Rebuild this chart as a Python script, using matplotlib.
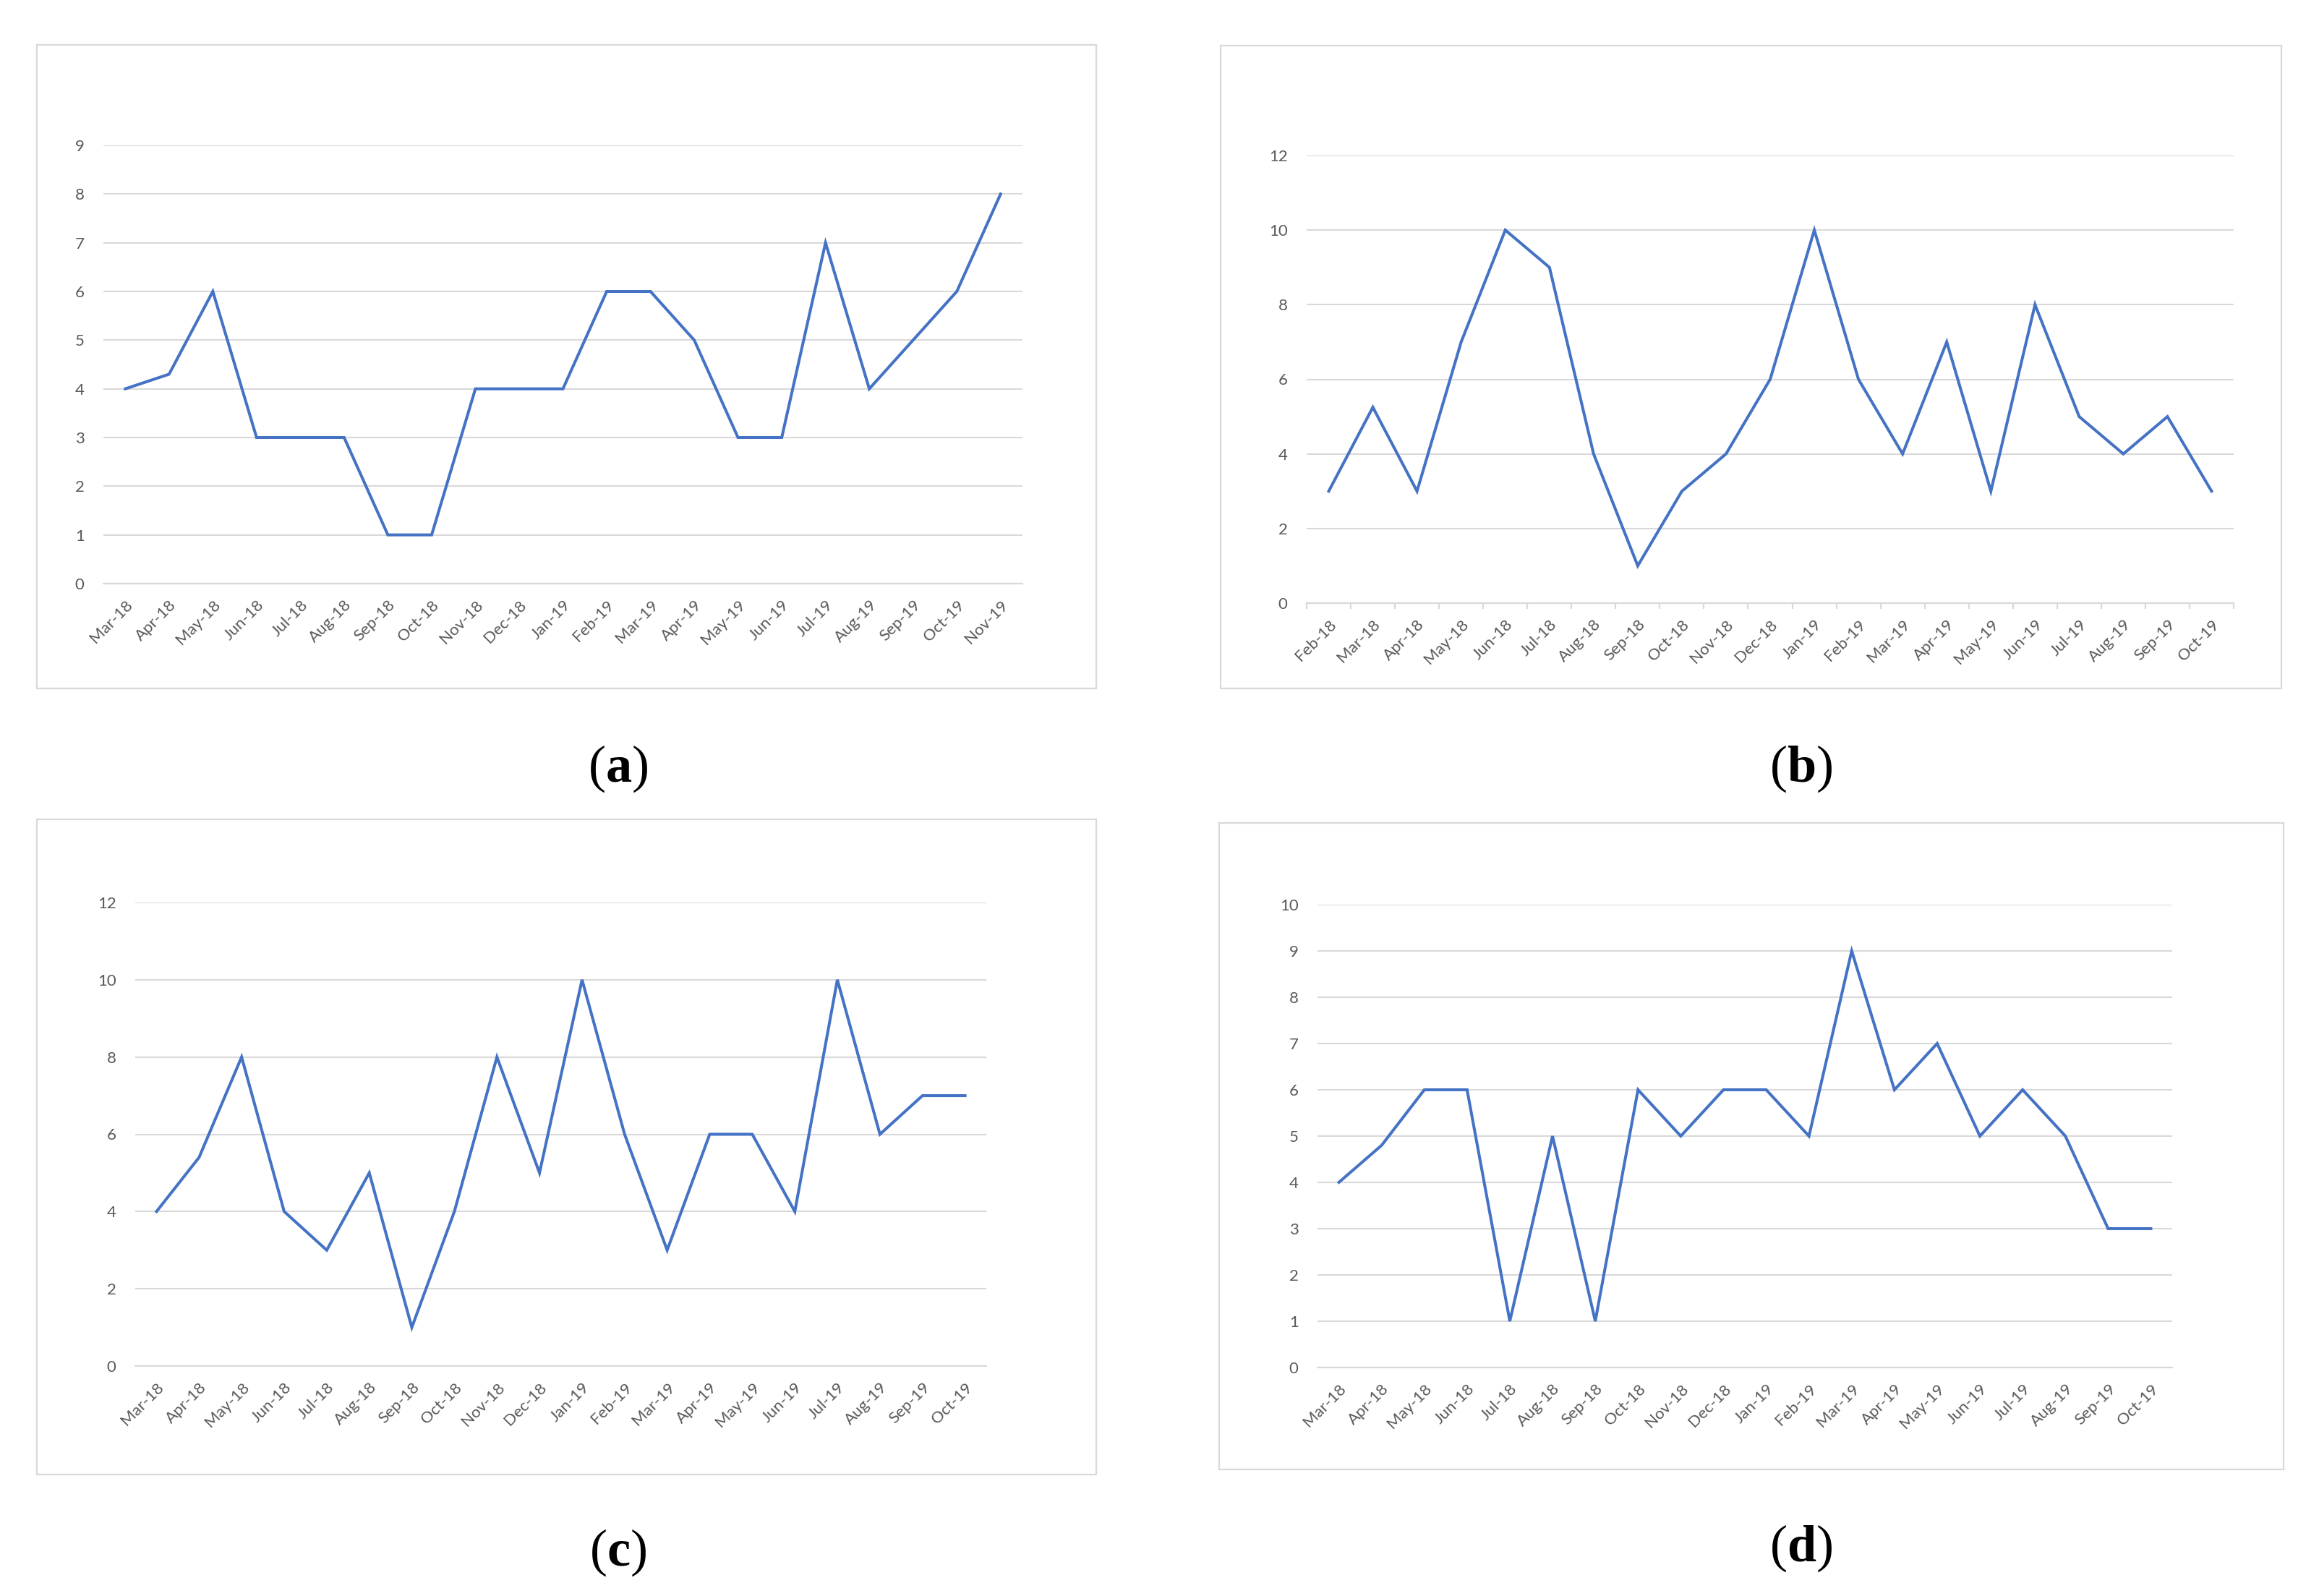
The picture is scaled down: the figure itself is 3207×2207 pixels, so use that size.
import matplotlib
matplotlib.use('Agg')
import matplotlib.pyplot as plt
from matplotlib.patches import Rectangle

# ---------------- data ----------------
months_a = ['Mar-18', 'Apr-18', 'May-18', 'Jun-18', 'Jul-18', 'Aug-18', 'Sep-18', 'Oct-18',
            'Nov-18', 'Dec-18', 'Jan-19', 'Feb-19', 'Mar-19', 'Apr-19', 'May-19', 'Jun-19',
            'Jul-19', 'Aug-19', 'Sep-19', 'Oct-19', 'Nov-19']
values_a = [4, 4.3, 6, 3, 3, 3, 1, 1, 4, 4, 4, 6, 6, 5, 3, 3, 7, 4, 5, 6, 8]

months_b = ['Feb-18', 'Mar-18', 'Apr-18', 'May-18', 'Jun-18', 'Jul-18', 'Aug-18', 'Sep-18',
            'Oct-18', 'Nov-18', 'Dec-18', 'Jan-19', 'Feb-19', 'Mar-19', 'Apr-19', 'May-19',
            'Jun-19', 'Jul-19', 'Aug-19', 'Sep-19', 'Oct-19']
values_b = [3, 5.25, 3, 7, 10, 9, 4, 1, 3, 4, 6, 10, 6, 4, 7, 3, 8, 5, 4, 5, 3]

months_c = ['Mar-18', 'Apr-18', 'May-18', 'Jun-18', 'Jul-18', 'Aug-18', 'Sep-18', 'Oct-18',
            'Nov-18', 'Dec-18', 'Jan-19', 'Feb-19', 'Mar-19', 'Apr-19', 'May-19', 'Jun-19',
            'Jul-19', 'Aug-19', 'Sep-19', 'Oct-19']
values_c = [4, 5.4, 8, 4, 3, 5, 1, 4, 8, 5, 10, 6, 3, 6, 6, 4, 10, 6, 7, 7]

months_d = ['Mar-18', 'Apr-18', 'May-18', 'Jun-18', 'Jul-18', 'Aug-18', 'Sep-18', 'Oct-18',
            'Nov-18', 'Dec-18', 'Jan-19', 'Feb-19', 'Mar-19', 'Apr-19', 'May-19', 'Jun-19',
            'Jul-19', 'Aug-19', 'Sep-19', 'Oct-19']
values_d = [4, 4.8, 6, 6, 1, 5, 1, 6, 5, 6, 6, 5, 9, 6, 7, 5, 6, 5, 3, 3]

yticks_a = list(range(0, 10, 1))
yticks_b = list(range(0, 13, 2))
yticks_c = list(range(0, 13, 2))
yticks_d = list(range(0, 11, 1))

captions = ['a', 'b', 'c', 'd']

# ---------------- style ----------------
plt.rcParams['mathtext.fontset'] = 'custom'
plt.rcParams['mathtext.rm'] = 'Liberation Serif'
plt.rcParams['mathtext.bf'] = 'Liberation Serif:bold'

LINE = '#4472C4'
GRID = '#D9D9D9'
TXT = '#595959'
FONT = 'Lato'
TSIZE = 16

W, H = 3207, 2207
fig = plt.figure(figsize=(W / 100, H / 100), dpi=100)


def px_axes(l, r, t, b):
    return fig.add_axes([l / W, 1 - b / H, (r - l) / W, (b - t) / H])


def frame(l, r, t, b):
    fig.patches.append(Rectangle((l / W, 1 - b / H), (r - l) / W, (b - t) / H,
                                 transform=fig.transFigure, fill=False,
                                 edgecolor=GRID, linewidth=1.6))


def panel(box, months, values, yticks, boundary_ticks=False):
    ax = px_axes(*box)
    x = list(range(len(months)))
    ax.plot(x, values, color=LINE, linewidth=2.9, solid_joinstyle='miter', zorder=3)
    ax.set_xlim(-0.5, len(months) - 0.5)
    ax.set_ylim(yticks[0], yticks[-1])
    ax.set_yticks(yticks)
    ax.set_xticks(x)
    ax.set_xticklabels(months, rotation=45, ha='right', va='top',
                       rotation_mode='anchor', fontsize=TSIZE, color=TXT, family=FONT)
    for lab in ax.get_yticklabels():
        lab.set_fontsize(TSIZE)
        lab.set_color(TXT)
        lab.set_family(FONT)
    ax.yaxis.grid(True, color=GRID, linewidth=1.5)
    ax.set_axisbelow(True)
    for s in ['top', 'right', 'left']:
        ax.spines[s].set_visible(False)
    ax.spines['bottom'].set_color(GRID)
    ax.spines['bottom'].set_linewidth(1.6)
    ax.tick_params(axis='y', length=0, pad=19)
    ax.tick_params(axis='x', which='major', length=0, pad=14)
    if boundary_ticks:
        ax.set_xticks([i - 0.5 for i in range(len(months) + 1)], minor=True)
        ax.tick_params(axis='x', which='minor', length=6, width=1.6, color=GRID)
    ax.set_facecolor('none')
    return ax


frame(51, 1516, 62, 952)
frame(1688, 3155, 63, 952)
frame(51, 1516, 1133, 2039)
frame(1686, 3158, 1138, 2032)

panel((143, 1414, 201, 807), months_a, values_a, yticks_a)
panel((1807, 3089, 215, 834), months_b, values_b, yticks_b, boundary_ticks=True)
panel((187, 1364, 1248, 1889), months_c, values_c, yticks_c)
panel((1822, 3004, 1251, 1891), months_d, values_d, yticks_d)

cap_pos = [(855, 1063), (2491, 1063), (855, 2147), (2491, 2141)]
for (cx, cy), c in zip(cap_pos, captions):
    fig.text(cx / W, 1 - cy / H, r'$\mathrm{(}\mathbf{' + c + r'}\mathrm{)}$',
             ha='center', va='center', fontsize=52, color='black')

fig.savefig('out.png', dpi=100, facecolor='white')
